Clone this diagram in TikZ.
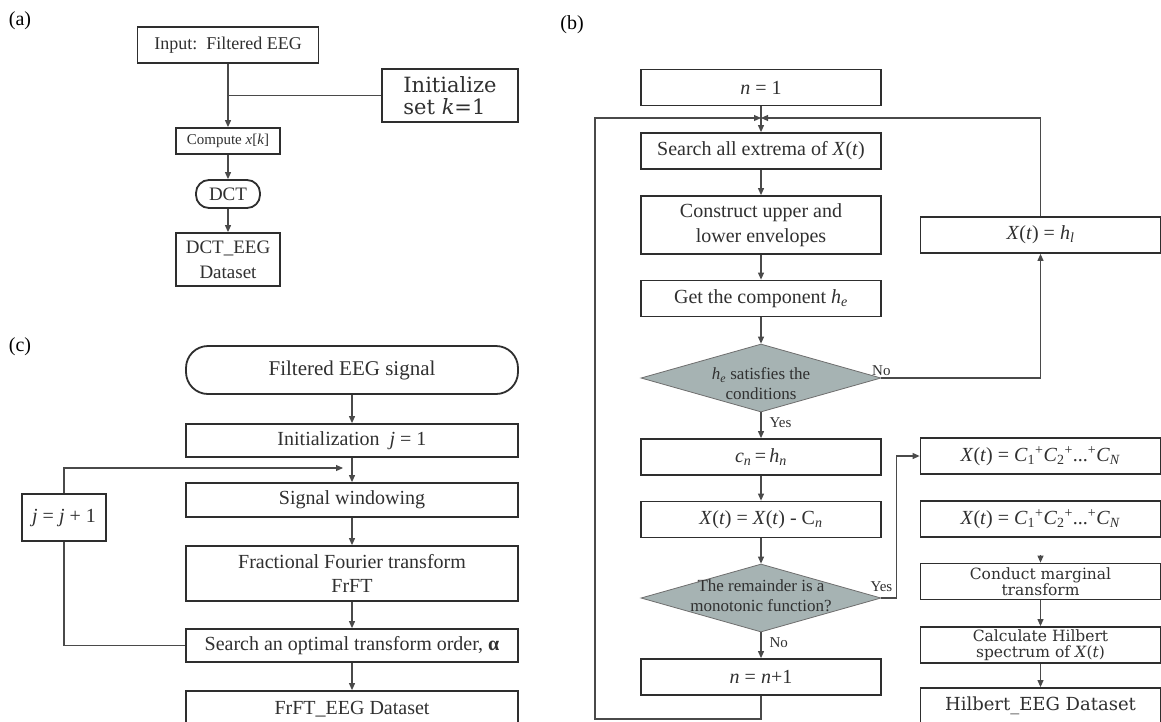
\documentclass[tikz,border=0pt]{standalone}
\usepackage{fontspec}
\setmainfont{Liberation Serif}
\newfontfamily\wideserif{DejaVu Serif}
\usetikzlibrary{shapes.geometric,arrows.meta}
\definecolor{boxline}{HTML}{2E2E2E}
\definecolor{wireline}{HTML}{4A4A4A}
\definecolor{inkgray}{HTML}{303030}
\definecolor{decfill}{HTML}{A6B3B3}
\newcommand\dtxt[3][-4pt]{\smash{\makebox[0pt]{\raisebox{#1}{\begin{tabular}{@{}c@{}}#2\\#3\end{tabular}}}}}
\newcommand\Xt{\textit{X}(\textit{t})}
\begin{document}
\begin{tikzpicture}[x=1pt, y=1pt,
	box/.style = {draw=boxline, line width=1.8pt, text=inkgray, align=center, inner sep=0pt},
	bbox/.style = {box, minimum width=240pt, minimum height=36pt, font=\fontsize{20}{25}\selectfont},
	wbox/.style = {bbox, font=\wideserif\fontsize{15.5}{16}\selectfont},
	cbox/.style = {box, minimum width=332pt, minimum height=33pt, font=\fontsize{20}{24}\selectfont},
	dec/.style = {diamond, draw=wireline!80, line width=0.8pt, fill=decfill, minimum width=240pt, minimum height=68pt, inner sep=0pt, text=inkgray, font=\fontsize{17}{20}\selectfont},
	line/.style = {draw=wireline, line width=1.1pt},
	arr/.style = {line, -{Triangle[length=7pt, width=6pt]}},
	lbl/.style = {text=inkgray, font=\fontsize{15}{17}\selectfont, inner sep=2pt},
	tag/.style = {text=black, font=\fontsize{20}{24}\selectfont, inner sep=0pt}]
	\fill[white] (0,0) rectangle (1161,-721);
	\useasboundingbox (0,0) rectangle (1161,-721);
	
	% (a)
	\node[tag] (ta) at (20,-21) {(a)};
	\node[box, minimum width=181pt, minimum height=36pt, font=\fontsize{18}{22}\selectfont] (in) at (228,-45) {Input:~~Filtered EEG};
	\node[box, align=left, minimum width=136pt, minimum height=53pt, font=\wideserif\fontsize{21}{22}\selectfont] (init) at (450,-95.5) {Initialize\\set \textit{k}=1};
	\node[box, minimum width=104pt, minimum height=26pt, font=\fontsize{15}{18}\selectfont] (comp) [node distance=96pt, below of=in] {Compute \textit{x}[\textit{k}]};
	\node[box, rounded corners=13pt, minimum width=64pt, minimum height=28pt, font=\fontsize{19}{22}\selectfont] (dct) [node distance=53pt, below of=comp] {DCT};
	\node[box, minimum width=104pt, minimum height=53pt, font=\fontsize{19}{25}\selectfont] (dcteeg) [node distance=65.5pt, below of=dct] {DCT\_EEG\\Dataset};
	
	\draw[arr] (in) -- (comp);
	\draw[arr] (comp) -- (dct);
	\draw[arr] (dct) -- (dcteeg);
	\draw[line] (init) -- (init -| in);
	
	% (b)
	\node[tag] (tb) at (572,-25) {(b)};
	\node[bbox] (n1) at (761,-87.5) {\textit{n} = 1};
	\node[bbox] (search) [node distance=63.5pt, below of=n1] {Search all extrema of \Xt};
	\node[bbox, minimum height=58pt] (env) [node distance=74pt, below of=search] {Construct upper and\\lower envelopes};
	\node[bbox] (get) [node distance=73.5pt, below of=env] {Get the component \textit{h}\textsubscript{\textit{e}}};
	\node[dec] (d1) [node distance=79.5pt, below of=get] {\dtxt[-12pt]{\textit{h}\textsubscript{\textit{e}} satisfies the}{conditions}};
	\node[bbox] (cn) [node distance=79pt, below of=d1] {\textit{c}\textsubscript{\textit{n}}\,=\,\textit{h}\textsubscript{\textit{n}}};
	\node[bbox] (xsub) [node distance=62.5pt, below of=cn] {\Xt{} = \Xt{} - C\textsubscript{\textit{n}}};
	\node[dec] (d2) [node distance=78.5pt, below of=xsub] {\dtxt{The remainder is a}{monotonic function?}};
	\node[bbox] (n2) [node distance=79pt, below of=d2] {\textit{n} = \textit{n}+1};
	
	\node[bbox] (hl) at (1040.5,-235) {\Xt{} = \textit{h}\textsubscript{\textit{l}}};
	\node[bbox] (sum1) at (1040.5,-456) {\Xt{} = \textit{C}\textsubscript{1}\textsuperscript{+}\textit{C}\textsubscript{2}\textsuperscript{+}...\textsuperscript{+}\textit{C}\textsubscript{\textit{N}}};
	\node[bbox] (sum2) [node distance=63pt, below of=sum1] {\Xt{} = \textit{C}\textsubscript{1}\textsuperscript{+}\textit{C}\textsubscript{2}\textsuperscript{+}...\textsuperscript{+}\textit{C}\textsubscript{\textit{N}}};
	\node[wbox] (marg) [node distance=62.5pt, below of=sum2] {Conduct marginal\\transform};
	\node[wbox] (hspec) [node distance=63.5pt, below of=marg] {Calculate Hilbert\\spectrum of \Xt};
	\node[wbox, font=\wideserif\fontsize{18}{20}\selectfont] (heeg) [node distance=61pt, below of=hspec] {Hilbert\_EEG Dataset};
	
	\coordinate (bj) at (761,-118);
	\coordinate (bl) at (595,-719);
	
	\draw[arr] (n1) -- (search);
	\draw[arr] (search) -- (env);
	\draw[arr] (env) -- (get);
	\draw[arr] (get) -- (d1);
	\draw[arr] (d1) -- node[lbl, right, pos=0.4, xshift=6pt] {Yes} (cn);
	\draw[arr] (d1.east) -- node[lbl, pos=0, above] {No} (d1.east -| hl) -- (hl);
	\draw[arr] (hl) -- (hl |- bj) -- (bj);
	\draw[arr] (cn) -- (xsub);
	\draw[arr] (xsub) -- (d2);
	\draw[arr] (d2) -- node[lbl, right, pos=0.4, xshift=6pt] {No} (n2);
	\draw[arr] (d2.east) -- node[lbl, pos=0, above, yshift=4pt] {Yes} ++(15,0) |- (sum1);
	\draw[arr] (n2) -- (n2 |- bl) -- (bl) -- (bl |- bj) -- (bj);
	\draw[arr, shorten <=17pt] (sum2) -- (marg);
	\draw[arr] (marg) -- (hspec);
	\draw[arr] (hspec) -- (heeg);
	
	% (c)
	\node[tag] (tc) at (20,-347) {(c)};
	\node[box, rounded corners=22pt, minimum width=332pt, minimum height=48pt, font=\fontsize{21}{25}\selectfont] (sig) at (352,-370) {Filtered EEG signal};
	\node[cbox] (jinit) [node distance=70.5pt, below of=sig] {Initialization~~\textit{j} = 1};
	\node[cbox, minimum height=34pt] (win) [node distance=59.5pt, below of=jinit] {Signal windowing};
	\node[cbox, minimum height=55pt] (frft) [node distance=73.5pt, below of=win] {Fractional Fourier transform\\FrFT};
	\node[cbox] (order) [node distance=72pt, below of=frft] {Search an optimal transform order, \textbf{α}};
	\node[cbox, minimum height=36pt] (feeg) [node distance=63.5pt, below of=order] {FrFT\_EEG Dataset};
	\node[box, minimum width=84pt, minimum height=47pt, font=\fontsize{20}{24}\selectfont] (jinc) at (64,-517.5) {\textit{j} = \textit{j} + 1};
	
	\coordinate (cj) at (343,-468);
	
	\draw[arr] (sig) -- (jinit);
	\draw[arr] (jinit) -- (win);
	\draw[arr] (win) -- (frft);
	\draw[arr] (frft) -- (order);
	\draw[arr] (order) -- (feeg);
	\draw[line] (order) -- (order -| jinc) -- (jinc);
	\draw[arr] (jinc) -- (jinc |- cj) -- (cj);
\end{tikzpicture}
\end{document}
